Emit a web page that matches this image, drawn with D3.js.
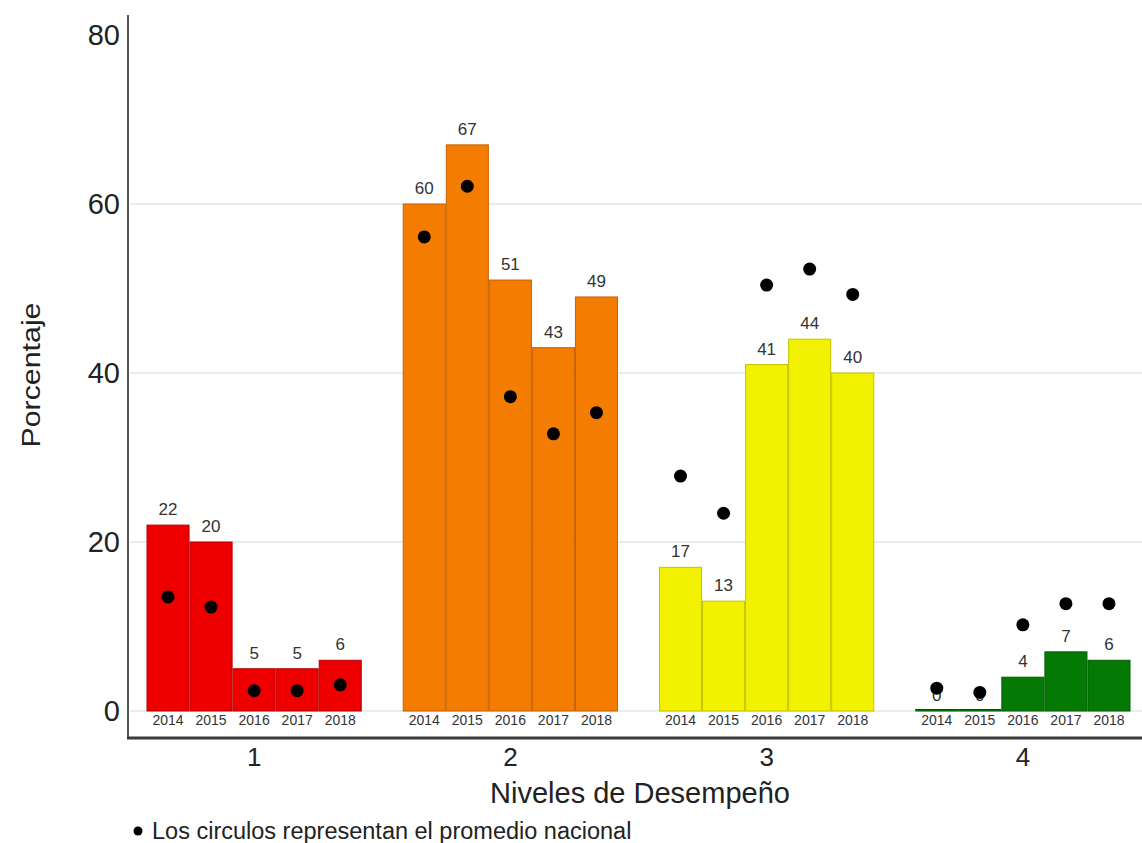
<!DOCTYPE html>
<html>
<head>
<meta charset="utf-8">
<script src="https://cdn.jsdelivr.net/npm/d3@7"></script>
<style>
  html, body { margin: 0; padding: 0; background: #fff; }
  svg { display: block; font-family: "Liberation Sans", Arial, sans-serif; }
</style>
</head>
<body>
<svg id="chart" width="1142" height="843"></svg>
<script>
// Niveles de desempeño por año (porcentaje de la escuela)
const niveles = ["1", "2", "3", "4"];
const anios = ["2014", "2015", "2016", "2017", "2018"];
const nivel1 = [22, 20, 5, 5, 6];
const nivel2 = [60, 67, 51, 43, 49];
const nivel3 = [17, 13, 41, 44, 40];
const nivel4 = [0, 0, 4, 7, 6];
// Promedio nacional (círculos)
const nacional1 = [13.5, 12.3, 2.4, 2.4, 3.1];
const nacional2 = [56.1, 62.1, 37.2, 32.8, 35.3];
const nacional3 = [27.8, 23.4, 50.4, 52.3, 49.3];
const nacional4 = [2.7, 2.2, 10.2, 12.7, 12.7];
const yTicks = [0, 20, 40, 60, 80];

const colores = ["#ee0000", "#f47c00", "#f2f200", "#047a04"];
const bordes = ["#b50000", "#c76200", "#c4c400", "#035a03"];

const escuela = [nivel1, nivel2, nivel3, nivel4];
const nacional = [nacional1, nacional2, nacional3, nacional4];

const rows = [];
niveles.forEach((n, i) => {
  anios.forEach((a, j) => {
    rows.push({ nivel: n, idx: i, anio: a, valor: escuela[i][j], nacional: nacional[i][j] });
  });
});

const svg = d3.select("#chart");
const axisX = 128, baseY = 738;

const x = d3.scaleBand().domain(niveles).range([126, 1151])
  .paddingInner(0.16).paddingOuter(0.08);
const xa = d3.scaleBand().domain(anios).range([0, x.bandwidth()]);
const y = d3.scaleLinear().domain([0, 80]).range([711, 35]);

// Líneas de cuadrícula horizontales
svg.append("g")
  .selectAll("line")
  .data(yTicks.filter(d => d < 80))
  .join("line")
  .attr("x1", axisX + 2).attr("x2", 1142)
  .attr("y1", d => y(d)).attr("y2", d => y(d))
  .attr("stroke", "#dce9ec").attr("stroke-width", 1.5);

// Eje Y
const yAxis = svg.append("g")
  .attr("transform", `translate(${axisX},0)`)
  .call(d3.axisLeft(y).tickValues(yTicks).tickSize(0).tickPadding(8));
yAxis.select(".domain").remove();
yAxis.selectAll("text")
  .attr("font-size", 29).attr("fill", "#222")
  .attr("font-family", "Liberation Sans, Arial, sans-serif");

svg.append("line")
  .attr("x1", axisX).attr("x2", axisX)
  .attr("y1", 15).attr("y2", baseY)
  .attr("stroke", "#555").attr("stroke-width", 2);

// Barras
svg.append("g")
  .selectAll("rect")
  .data(rows)
  .join("rect")
  .attr("x", d => x(d.nivel) + xa(d.anio) + 0.5)
  .attr("y", d => y(d.valor) - (d.valor === 0 ? 1.5 : 0))
  .attr("width", xa.bandwidth() - 1)
  .attr("height", d => y(0) - y(d.valor) + (d.valor === 0 ? 1.5 : 0))
  .attr("fill", d => colores[d.idx])
  .attr("stroke", d => bordes[d.idx])
  .attr("stroke-width", 1);

// Etiquetas de valor
svg.append("g")
  .selectAll("text")
  .data(rows)
  .join("text")
  .attr("x", d => x(d.nivel) + xa(d.anio) + xa.bandwidth() / 2)
  .attr("y", d => y(d.valor) - 10)
  .attr("text-anchor", "middle")
  .attr("font-size", 17)
  .attr("fill", "#333")
  .text(d => d3.format("d")(d.valor));

// Años bajo cada barra
svg.append("g")
  .selectAll("text")
  .data(rows)
  .join("text")
  .attr("x", d => x(d.nivel) + xa(d.anio) + xa.bandwidth() / 2)
  .attr("y", 725)
  .attr("text-anchor", "middle")
  .attr("font-size", 14)
  .attr("fill", "#333")
  .text(d => d.anio);

// Promedio nacional
svg.append("g")
  .selectAll("circle")
  .data(rows)
  .join("circle")
  .attr("cx", d => x(d.nivel) + xa(d.anio) + xa.bandwidth() / 2)
  .attr("cy", d => y(d.nacional))
  .attr("r", 6.5)
  .attr("fill", "#000");

// Eje X
svg.append("line")
  .attr("x1", axisX - 1).attr("x2", 1142)
  .attr("y1", baseY).attr("y2", baseY)
  .attr("stroke", "#3a3a3a").attr("stroke-width", 3);

const xAxis = svg.append("g")
  .attr("transform", `translate(0,${baseY})`)
  .call(d3.axisBottom(x).tickSize(0).tickPadding(10));
xAxis.select(".domain").remove();
xAxis.selectAll("text")
  .attr("font-size", 26).attr("fill", "#222")
  .attr("font-family", "Liberation Sans, Arial, sans-serif");

// Títulos de ejes
svg.append("text")
  .attr("x", 640).attr("y", 803)
  .attr("text-anchor", "middle")
  .attr("font-size", 29)
  .attr("fill", "#222")
  .text("Niveles de Desempeño");

svg.append("text")
  .attr("transform", "translate(40,375) rotate(-90)")
  .attr("text-anchor", "middle")
  .attr("font-size", 26)
  .attr("fill", "#222")
  .attr("textLength", 145)
  .attr("lengthAdjust", "spacingAndGlyphs")
  .text("Porcentaje");

// Nota
svg.append("circle")
  .attr("cx", 138).attr("cy", 831).attr("r", 4.5).attr("fill", "#000");
svg.append("text")
  .attr("x", 152).attr("y", 839)
  .attr("font-size", 23.5)
  .attr("fill", "#222")
  .text("Los circulos representan el promedio nacional");
</script>
</body>
</html>
